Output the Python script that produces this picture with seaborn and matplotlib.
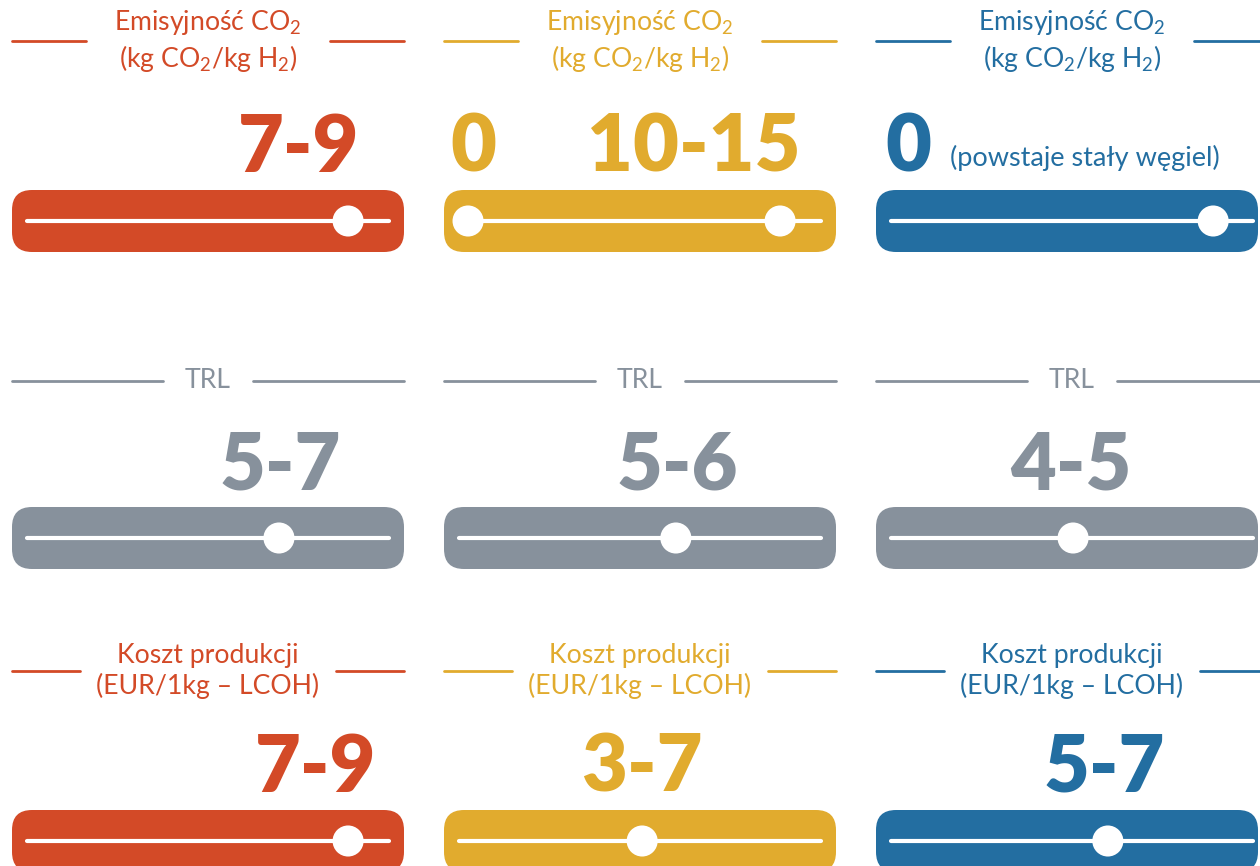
import matplotlib
matplotlib.use('Agg')
import matplotlib.pyplot as plt
import matplotlib.transforms as mtransforms
from matplotlib.patches import FancyBboxPatch
import seaborn as sns
import pandas as pd

columns = ['kolumna_1', 'kolumna_2', 'kolumna_3']
colors = ['#D34A27', '#E1AB2E', '#236EA1']
gray = '#87919C'

header_texts = [
    'Emisyjność CO$\\mathregular{_2}$\n(kg CO$\\mathregular{_2}$/kg H$\\mathregular{_2}$)',
    'TRL',
    'Koszt produkcji\n(EUR/1kg – LCOH)',
]

# wartości liczbowe wypisane nad suwakami
value_labels = [
    ['7-9', ['0', '10-15'], '0'],
    ['5-7', '5-6', '4-5'],
    ['7-9', '3-7', '5-7'],
]
note_text = '(powstaje stały węgiel)'

# położenie uchwytów suwaka (0 = lewy koniec, 1 = prawy koniec)
knob_values = [
    [[0.887], [0.025, 0.887], [0.890]],
    [[0.696], [0.599], [0.503]],
    [[0.887], [0.506], [0.599]],
]

# układ (piksele)
W, H = 1260, 866
bar_left = [12, 444, 876]
bar_width = [392, 392, 382]
bar_top = [190, 507, 810]
bar_h = 62
track_inset = 15
track_len = 362
header_y = [41, 381, 671]
header_gap = [122, 45, 128]
header_center = [208, 640, 1072]
number_baseline = [172, 490, 792]
# środek etykiet liczbowych na skali suwaka
number_pos = [
    [0.749, [0.039, 0.649], 0.047],
    [0.699, 0.602, 0.497],
    [0.796, 0.506, 0.588],
]
note_pos = 0.163

sns.set_theme(style='white')
plt.rcParams['font.family'] = ['Lato', 'DejaVu Sans']
plt.rcParams['mathtext.fontset'] = 'custom'
plt.rcParams['mathtext.rm'] = 'Lato'

fig = plt.figure(figsize=(W / 100, H / 100), dpi=100)
fig.patch.set_facecolor('white')

# tło w pikselach
bg = fig.add_axes([0, 0, 1, 1])
bg.set_xlim(0, W)
bg.set_ylim(H, 0)
bg.axis('off')

for r in range(3):
    for c in range(3):
        col = gray if r == 1 else colors[c]

        # nagłówek z liniami
        cx = header_center[c]
        bg.text(cx, header_y[r], header_texts[r], color=col, fontsize=19.2,
                ha='center', va='center', linespacing=1.25)
        bg.plot([bar_left[c], cx - header_gap[r]], [header_y[r]] * 2, color=col, lw=2)
        bg.plot([cx + header_gap[r], bar_left[c] + 392], [header_y[r]] * 2, color=col, lw=2)

        # pasek suwaka
        bg.add_patch(FancyBboxPatch((bar_left[c], bar_top[r]), bar_width[c], bar_h,
                                    boxstyle='round,pad=0,rounding_size=20',
                                    facecolor=col, edgecolor='none'))

        # osobna oś dla skali suwaka
        ax = fig.add_axes([bar_left[c] / W, 1 - (bar_top[r] + bar_h) / H,
                           bar_width[c] / W, bar_h / H])
        ax.set_xlim(-track_inset / track_len, (bar_width[c] - track_inset) / track_len)
        ax.set_ylim(-1, 1)
        ax.axis('off')
        ax.patch.set_alpha(0)

        ax.plot([0, 1], [0, 0], color='white', lw=3, solid_capstyle='round', zorder=2)
        df = pd.DataFrame({'x': knob_values[r][c], 'y': [0] * len(knob_values[r][c])})
        sns.scatterplot(data=df, x='x', y='y', ax=ax, s=500, color='white',
                        edgecolor='none', zorder=3, legend=False)
        ax.set_xlabel('')
        ax.set_ylabel('')

        tr = mtransforms.blended_transform_factory(ax.transData, bg.transData)
        labels = value_labels[r][c]
        poss = number_pos[r][c]
        if not isinstance(labels, list):
            labels, poss = [labels], [poss]
        for lab, p in zip(labels, poss):
            ax.text(p, number_baseline[r], lab, transform=tr, color=col,
                    fontsize=57, fontweight='heavy', ha='center', va='baseline',
                    clip_on=False)
        if r == 0 and c == 2:
            ax.text(note_pos, 166, note_text, transform=tr, color=col,
                    fontsize=19.5, fontweight='normal', ha='left', va='baseline',
                    clip_on=False)

fig.savefig('out.png', dpi=100, facecolor='white')
